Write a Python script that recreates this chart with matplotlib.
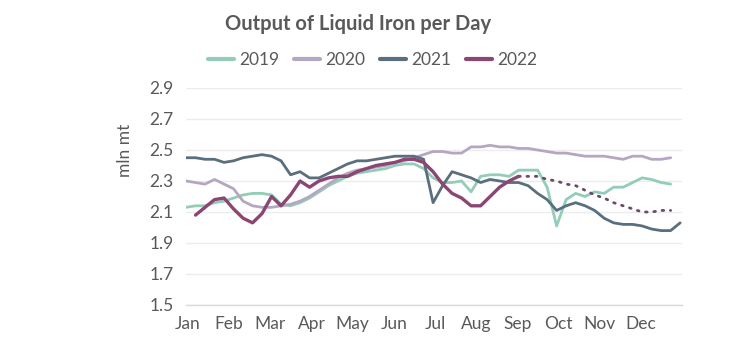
import matplotlib
matplotlib.use("Agg")
import matplotlib.pyplot as plt
import numpy as np

plt.rcParams['font.family'] = ['Lato', 'DejaVu Sans']

title = "Output of Liquid Iron per Day"
ylabel = "mln mt"
months = ["Jan", "Feb", "Mar", "Apr", "May", "Jun", "Jul", "Aug", "Sep", "Oct", "Nov", "Dec"]
yticks = [1.5, 1.7, 1.9, 2.1, 2.3, 2.5, 2.7, 2.9]

# weekly values (week index 0..)
s2019 = [2.13, 2.14, 2.14, 2.16, 2.17, 2.19, 2.21, 2.22, 2.22, 2.21,
         2.15, 2.14, 2.16, 2.19, 2.23, 2.27, 2.30, 2.33, 2.35, 2.36,
         2.37, 2.38, 2.40, 2.41, 2.41, 2.38, 2.32, 2.29, 2.29, 2.30,
         2.23, 2.33, 2.34, 2.34, 2.33, 2.37, 2.37, 2.37, 2.26, 2.01,
         2.18, 2.22, 2.20, 2.23, 2.22, 2.26, 2.26, 2.29, 2.32, 2.31,
         2.29, 2.28]
s2020 = [2.30, 2.29, 2.28, 2.31, 2.28, 2.25, 2.17, 2.14, 2.13, 2.13,
         2.14, 2.15, 2.17, 2.20, 2.24, 2.28, 2.32, 2.35, 2.37, 2.38,
         2.39, 2.40, 2.42, 2.43, 2.45, 2.47, 2.49, 2.49, 2.48, 2.48,
         2.52, 2.52, 2.53, 2.52, 2.52, 2.51, 2.51, 2.50, 2.49, 2.48,
         2.48, 2.47, 2.46, 2.46, 2.46, 2.45, 2.44, 2.46, 2.46, 2.44,
         2.44, 2.45]
s2021 = [2.45, 2.45, 2.44, 2.44, 2.42, 2.43, 2.45, 2.46, 2.47, 2.46,
         2.43, 2.34, 2.36, 2.32, 2.32, 2.35, 2.38, 2.41, 2.43, 2.43,
         2.44, 2.45, 2.46, 2.46, 2.46, 2.44, 2.16, 2.27, 2.36, 2.34,
         2.32, 2.29, 2.31, 2.30, 2.29, 2.29, 2.27, 2.22, 2.18, 2.11,
         2.14, 2.16, 2.14, 2.11, 2.06, 2.03, 2.02, 2.02, 2.01, 1.99,
         1.98, 1.98, 2.03]
s2022_start = 1
s2022 = [2.08, 2.13, 2.18, 2.19, 2.12, 2.06, 2.03, 2.09, 2.20, 2.14,
         2.21, 2.30, 2.26, 2.30, 2.32, 2.33, 2.33, 2.36, 2.38, 2.40,
         2.41, 2.42, 2.44, 2.44, 2.42, 2.36, 2.28, 2.22, 2.19, 2.14,
         2.14, 2.20, 2.26, 2.30, 2.33]
fc_start = 35
forecast = [2.33, 2.33, 2.33, 2.31, 2.30, 2.28, 2.27, 2.24, 2.21, 2.19,
            2.16, 2.14, 2.12, 2.10, 2.10, 2.11, 2.11]

colors = {"2019": "#93cdb7", "2020": "#b4a7c2", "2021": "#5a6f7e", "2022": "#8b4674"}
text_color = "#595959"

fig = plt.figure(figsize=(7.45, 3.46), dpi=100)
ax = fig.add_axes([0.2497, 0.1185, 0.6658, 0.6272])

ax.plot(np.arange(len(s2019)), s2019, color=colors["2019"], lw=2.0, label="2019", solid_capstyle='round')
ax.plot(np.arange(len(s2020)), s2020, color=colors["2020"], lw=2.0, label="2020", solid_capstyle='round')
ax.plot(np.arange(len(s2021)), s2021, color=colors["2021"], lw=2.0, label="2021", solid_capstyle='round')
ax.plot(np.arange(fc_start, fc_start + len(forecast)), forecast, color="#6e4a66", lw=2.0,
        linestyle=(0, (0.6, 2.4)), dash_capstyle='round')
ax.plot(np.arange(s2022_start, s2022_start + len(s2022)), s2022, color=colors["2022"], lw=2.4,
        label="2022", solid_capstyle='round')

ax.set_ylim(1.5, 2.9)
ax.set_xlim(0, 52.2)
ax.set_yticks(yticks)
ax.set_yticklabels([f"{v:.1f}" for v in yticks])
ax.set_xticks([0.2 + i * 52 / 12 for i in range(12)])
ax.set_xticklabels(months)
ax.tick_params(axis='both', length=0, labelsize=12.5, colors=text_color)
ax.tick_params(axis='y', pad=9)
ax.tick_params(axis='x', pad=8)
ax.grid(axis='y', color="#ececec", lw=1.0)
ax.set_axisbelow(True)
for sp in ["top", "right", "left"]:
    ax.spines[sp].set_visible(False)
ax.spines["bottom"].set_color("#d9d9d9")
ax.spines["bottom"].set_linewidth(1.0)

fig.text(0.168, 0.565, ylabel, rotation=90, ha='center', va='center',
         fontsize=12.5, color=text_color)
fig.text(0.481, 0.932, title, ha='center', va='center', fontsize=14.5, fontweight='bold', color=text_color)

leg = fig.legend(loc='center', bbox_to_anchor=(0.5, 0.826), ncol=4, frameon=False,
                 fontsize=12.5, handlelength=1.5, handletextpad=0.3, columnspacing=0.85,
                 labelcolor=text_color)
for line in leg.get_lines():
    line.set_linewidth(3.0)

fig.savefig("out.png", dpi=100)
